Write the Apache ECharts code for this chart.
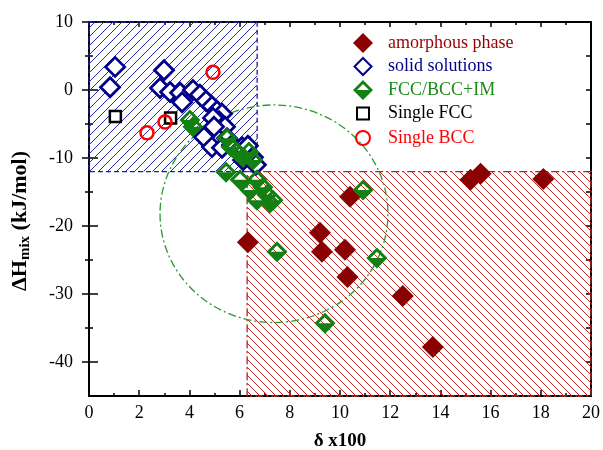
<!DOCTYPE html>
<html><head><meta charset="utf-8">
<script src="https://cdn.jsdelivr.net/npm/echarts@6/dist/echarts.min.js"></script>
<style>html,body{margin:0;padding:0;background:#fff}#c{width:603px;height:450px}</style>
</head><body><div id="c"></div>
<script>
// ---- data (delta x100, dHmix kJ/mol) ----
const amorphous = [[6.33,-22.4],[9.2,-21.0],[9.28,-23.8],[10.2,-23.5],[10.3,-27.5],[10.4,-15.7],[12.5,-30.3],[13.7,-37.8],[15.2,-13.2],[15.6,-12.3],[18.1,-13.1]];
const solidSolutions = [[1.04,3.4],[0.84,0.4],[2.99,2.9],[2.83,0.3],[3.23,-0.3],[3.63,-0.4],[3.71,-1.8],[4.14,0.0],[4.42,-0.7],[4.66,-1.6],[4.9,-2.4],[5.1,-3.1],[5.3,-3.5],[5.18,-4.6],[4.94,-4.1],[5.42,-5.4],[4.98,-5.4],[5.5,-7.1],[4.58,-6.9],[4.9,-8.4],[5.3,-8.5],[5.7,-8.1],[6.1,-8.4],[6.33,-8.2],[6.14,-10.3],[6.53,-9.9],[6.65,-11.0]];
const fccBccIm = [[4.02,-4.4],[4.14,-5.4],[5.5,-7.1],[5.66,-8.4],[5.9,-9.1],[6.14,-9.9],[6.37,-9.1],[6.53,-10.3],[5.46,-12.1],[6.02,-13.2],[6.41,-14.7],[6.69,-13.2],[6.93,-14.3],[7.09,-15.4],[7.21,-16.6],[6.69,-16.2],[7.33,-16.2],[7.49,-23.8],[9.4,-34.3],[11.47,-24.7],[10.92,-14.7]];
const singleFcc = [[1.05,-3.9],[3.25,-4.1]];
const singleBcc = [[2.31,-6.3],[3.03,-4.7],[4.94,2.6]];
const seriesNames = ['amorphous phase','solid solutions','FCC/BCC+IM','Single FCC','Single BCC'];
const yMajorTicks = [-40,-30,-20,-10,0,10];
const yMinorTicks = [-35,-25,-15,-5,5];
const blueRegion = [[0,10,6.7,-12]];
const redRegion = [[6.3,-12,20,-45]];
const guideEllipse = [[7.37,-18.2,4.54,16]]; // center x, center y, radius x, radius y

const FONT = 'Liberation Serif';
const C_AM = '#8b0000', C_SS = '#00008b', C_IM = '#128012', C_FCC = '#000000', C_BCC = '#ff0000';

function hatch(color, dir, s) {
  const cv = document.createElement('canvas');
  cv.width = s; cv.height = s;
  const ctx = cv.getContext('2d');
  ctx.strokeStyle = color; ctx.lineWidth = 1;
  ctx.beginPath();
  for (const k of [-s, 0, s]) {
    if (dir === '/') { ctx.moveTo(k, s); ctx.lineTo(k + s, 0); }
    else { ctx.moveTo(k, 0); ctx.lineTo(k + s, s); }
  }
  ctx.stroke();
  return { image: cv, repeat: 'repeat' };
}

function regionSeries(data, color, hatchColor, dir, step, dash) {
  const pat = hatch(hatchColor, dir, step);
  return {
    type: 'custom', data: data, z: 1, silent: true, clip: false,
    encode: { x: [0, 2], y: [1, 3] },
    renderItem: function (params, api) {
      const p0 = api.coord([api.value(0), api.value(1)]);
      const p1 = api.coord([api.value(2), api.value(3)]);
      return {
        type: 'rect',
        shape: { x: Math.min(p0[0], p1[0]), y: Math.min(p0[1], p1[1]), width: Math.abs(p1[0] - p0[0]), height: Math.abs(p1[1] - p0[1]) },
        style: { fill: pat, stroke: color, lineWidth: 1.3, lineDash: dash }
      };
    }
  };
}

const imSymbol = 'path://M10,0 L20,10 L10,20 L0,10 Z M10,4 L4,10 L16,10 Z';
const fccIcon = 'path://M0,0 M20,20 M4,4 L16,4 L16,16 L4,16 Z';
const bccIcon = 'path://M0,0 M20,20 M10,3 A7,7 0 1 1 9.99,3 Z';
const ssIcon = 'path://M0,0 M20,20 M10,1.5 L18.5,10 L10,18.5 L1.5,10 Z';

const axisLineStyle = { color: '#000', width: 2 };
const tickStyle = { color: '#000', width: 1.5 };

function yAx(opts) {
  return Object.assign({
    type: 'value', min: -45, max: 10, position: 'left',
    axisLine: { show: true, onZero: false, lineStyle: axisLineStyle },
    axisLabel: { show: false }, splitLine: { show: false }
  }, opts);
}

const chart = echarts.init(document.getElementById('c'), null, { renderer: 'canvas' });
chart.setOption({
  animation: false,
  backgroundColor: '#fff',
  grid: { left: 89, right: 12, top: 22, bottom: 54, outerBoundsMode: 'none' },
  legend: {
    orient: 'vertical', left: 347, top: 28, itemWidth: 20, itemHeight: 20, itemGap: 2.5,
    selectedMode: false,
    textStyle: { fontFamily: FONT, fontSize: 18, lineHeight: 20, padding: [0, 0, 0, 10] },
    data: [
      { name: seriesNames[0], textStyle: { color: '#990000' } },
      { name: seriesNames[1], icon: ssIcon, textStyle: { color: C_SS } },
      { name: seriesNames[2], textStyle: { color: '#1a8a1a' } },
      { name: seriesNames[3], icon: fccIcon, textStyle: { color: '#000' } },
      { name: seriesNames[4], icon: bccIcon, textStyle: { color: C_BCC } }
    ]
  },
  xAxis: [
    {
      type: 'value', min: 0, max: 20, interval: 2, position: 'bottom',
      axisLine: { onZero: false, lineStyle: axisLineStyle },
      axisTick: { inside: true, length: 6, lineStyle: tickStyle },
      minorTick: { show: true, splitNumber: 2, length: 3, lineStyle: tickStyle },
      splitLine: { show: false }, minorSplitLine: { show: false },
      axisLabel: { color: '#000', fontFamily: FONT, fontSize: 18, margin: 8 },
      name: 'δ x100', nameLocation: 'middle', nameGap: 36,
      nameTextStyle: { color: '#000', fontFamily: FONT, fontSize: 19, fontWeight: 'bold' }
    },
    {
      type: 'value', min: 0, max: 20, interval: 2, position: 'top',
      axisLine: { onZero: false, lineStyle: axisLineStyle },
      axisTick: { inside: true, length: 5, lineStyle: tickStyle },
      minorTick: { show: true, splitNumber: 2, length: 3, lineStyle: tickStyle },
      splitLine: { show: false }, axisLabel: { show: false }
    }
  ],
  yAxis: [
    yAx({
      axisTick: { inside: true, length: 9, customValues: yMajorTicks, lineStyle: tickStyle },
      axisLabel: { show: true, customValues: yMajorTicks, color: '#000', fontFamily: FONT, fontSize: 18, margin: 16 },
      name: '{a|ΔH}{b|mix}{a| (kJ/mol)}', nameLocation: 'middle', nameGap: 56, nameRotate: 90,
      nameTextStyle: { padding: [0, 24, 0, 0], rich: {
        a: { fontFamily: FONT, fontSize: 22, fontWeight: 'bold', color: '#000' },
        b: { fontFamily: FONT, fontSize: 15, fontWeight: 'bold', color: '#000', verticalAlign: 'bottom', padding: [10, 0, 0, 0] }
      } }
    }),
    yAx({ axisTick: { inside: false, length: 7, customValues: yMajorTicks, lineStyle: tickStyle } }),
    yAx({ axisTick: { inside: true, length: 4, customValues: yMinorTicks, lineStyle: tickStyle } }),
    yAx({ axisTick: { inside: false, length: 4, customValues: yMinorTicks, lineStyle: tickStyle } }),
    yAx({ position: 'right', axisTick: { inside: true, length: 5, customValues: yMajorTicks, lineStyle: tickStyle } }),
    yAx({ position: 'right', axisTick: { inside: true, length: 5, customValues: yMinorTicks, lineStyle: tickStyle } })
  ],
  series: [
    regionSeries(blueRegion, '#1c1ca0', '#2a2ab0', '/', 9, [5, 3]),
    regionSeries(redRegion, '#b32020', '#c02828', '\\', 8, [8, 3, 2, 3]),
    {
      type: 'custom', data: guideEllipse, z: 2, silent: true, clip: false,
      encode: { x: 0, y: 1 },
      renderItem: function (params, api) {
        const c = api.coord([api.value(0), api.value(1)]);
        const s = api.size([api.value(2), api.value(3)]);
        const rx = s[0], ry = s[1];
        return {
          type: 'path',
          shape: { pathData: 'M' + (c[0] - rx) + ',' + c[1] + ' A' + rx + ',' + ry + ' 0 1 0 ' + (c[0] + rx) + ',' + c[1] + ' A' + rx + ',' + ry + ' 0 1 0 ' + (c[0] - rx) + ',' + c[1] + ' Z' },
          style: { fill: null, stroke: '#2a9a2a', lineWidth: 1.3, lineDash: [8, 3, 2, 3] }
        };
      }
    },
    { name: seriesNames[0], type: 'scatter', z: 3, data: amorphous, symbol: 'diamond', symbolSize: 22,
      itemStyle: { color: C_AM, opacity: 1 } },
    { name: seriesNames[1], type: 'scatter', z: 3, data: solidSolutions, symbol: 'diamond', symbolSize: 19,
      itemStyle: { color: '#fff', borderColor: C_SS, borderWidth: 2.8, opacity: 1 } },
    { name: seriesNames[2], type: 'scatter', z: 4, data: fccBccIm, symbol: imSymbol, symbolSize: 21,
      itemStyle: { color: C_IM, opacity: 1 } },
    { name: seriesNames[3], type: 'scatter', z: 5, data: singleFcc, symbol: 'rect', symbolSize: 11,
      itemStyle: { color: '#fff', borderColor: C_FCC, borderWidth: 2.5, opacity: 1 } },
    { name: seriesNames[4], type: 'scatter', z: 5, data: singleBcc, symbol: 'circle', symbolSize: 13,
      itemStyle: { color: 'rgba(0,0,0,0)', borderColor: C_BCC, borderWidth: 2.5, opacity: 1 } }
  ]
});
</script></body></html>
